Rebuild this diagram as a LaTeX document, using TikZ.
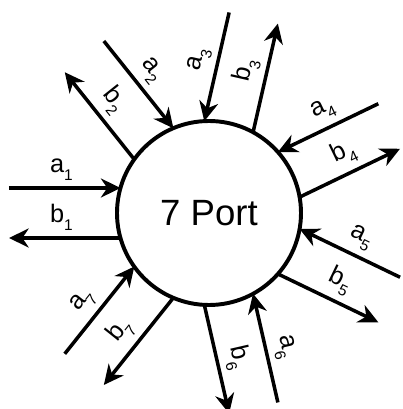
\documentclass[tikz,border=0pt]{standalone}
\usepackage{fontspec}
\setmainfont{Liberation Sans}
\usetikzlibrary{arrows.meta}
\newcommand{\pwave}[2]{#1\raisebox{-6pt}{\fontsize{11}{11}\selectfont #2}}

\begin{document}
\begin{tikzpicture}[
  network/.style={circle,draw,line width=2.8pt,minimum size=4.6cm,inner sep=0pt,
                  font=\fontsize{26}{30}\selectfont},
  arr/.style={-{Stealth[length=14pt,width=13.5pt,inset=4.5pt]},line width=2.5pt},
  lblin/.style={sloped,above,pos=0.47,inner sep=4pt,font=\fontsize{18}{20}\selectfont},
  lblout/.style={sloped,above,pos=0.53,inner sep=4pt,font=\fontsize{18}{20}\selectfont},
]
\useasboundingbox[fill=white] (-5.225,-4.9) rectangle (4.825,5.325);

% The network
\node[network] (port) at (0,0) {7 Port};

% Port 1
\begin{scope}[rotate=180]
  \coordinate (a1in)  at (2.21,-0.625);
  \coordinate (a1out) at (5,-0.625);
  \coordinate (b1in)  at (2.21,0.625);
  \coordinate (b1out) at (5,0.625);
\end{scope}
\draw[arr] (a1out) -- node[lblin]{\pwave{a}{1}} (a1in);
\draw[arr] (b1in) -- node[lblout]{\pwave{b}{1}} (b1out);

% Port 2
\begin{scope}[rotate=128.571]
  \coordinate (a2in)  at (2.21,-0.625);
  \coordinate (a2out) at (5,-0.625);
  \coordinate (b2in)  at (2.21,0.625);
  \coordinate (b2out) at (5,0.625);
\end{scope}
\draw[arr] (a2out) -- node[lblin]{\pwave{a}{2}} (a2in);
\draw[arr] (b2in) -- node[lblout]{\pwave{b}{2}} (b2out);

% Port 3
\begin{scope}[rotate=77.143]
  \coordinate (a3in)  at (2.21,0.625);
  \coordinate (a3out) at (5,0.625);
  \coordinate (b3in)  at (2.21,-0.625);
  \coordinate (b3out) at (5,-0.625);
\end{scope}
\draw[arr] (a3out) -- node[lblin]{\pwave{a}{3}} (a3in);
\draw[arr] (b3in) -- node[lblout]{\pwave{b}{3}} (b3out);

% Port 4
\begin{scope}[rotate=25.714]
  \coordinate (a4in)  at (2.21,0.625);
  \coordinate (a4out) at (5,0.625);
  \coordinate (b4in)  at (2.21,-0.625);
  \coordinate (b4out) at (5,-0.625);
\end{scope}
\draw[arr] (a4out) -- node[lblin]{\pwave{a}{4}} (a4in);
\draw[arr] (b4in) -- node[lblout]{\pwave{b}{4}} (b4out);

% Port 5
\begin{scope}[rotate=-25.714]
  \coordinate (a5in)  at (2.21,0.625);
  \coordinate (a5out) at (5,0.625);
  \coordinate (b5in)  at (2.21,-0.625);
  \coordinate (b5out) at (5,-0.625);
\end{scope}
\draw[arr] (a5out) -- node[lblin]{\pwave{a}{5}} (a5in);
\draw[arr] (b5in) -- node[lblout]{\pwave{b}{5}} (b5out);

% Port 6
\begin{scope}[rotate=-77.143]
  \coordinate (a6in)  at (2.21,0.625);
  \coordinate (a6out) at (5,0.625);
  \coordinate (b6in)  at (2.21,-0.625);
  \coordinate (b6out) at (5,-0.625);
\end{scope}
\draw[arr] (a6out) -- node[lblin]{\pwave{a}{6}} (a6in);
\draw[arr] (b6in) -- node[lblout]{\pwave{b}{6}} (b6out);

% Port 7
\begin{scope}[rotate=-128.571]
  \coordinate (a7in)  at (2.21,-0.625);
  \coordinate (a7out) at (5,-0.625);
  \coordinate (b7in)  at (2.21,0.625);
  \coordinate (b7out) at (5,0.625);
\end{scope}
\draw[arr] (a7out) -- node[lblin]{\pwave{a}{7}} (a7in);
\draw[arr] (b7in) -- node[lblout]{\pwave{b}{7}} (b7out);

\end{tikzpicture}
\end{document}
